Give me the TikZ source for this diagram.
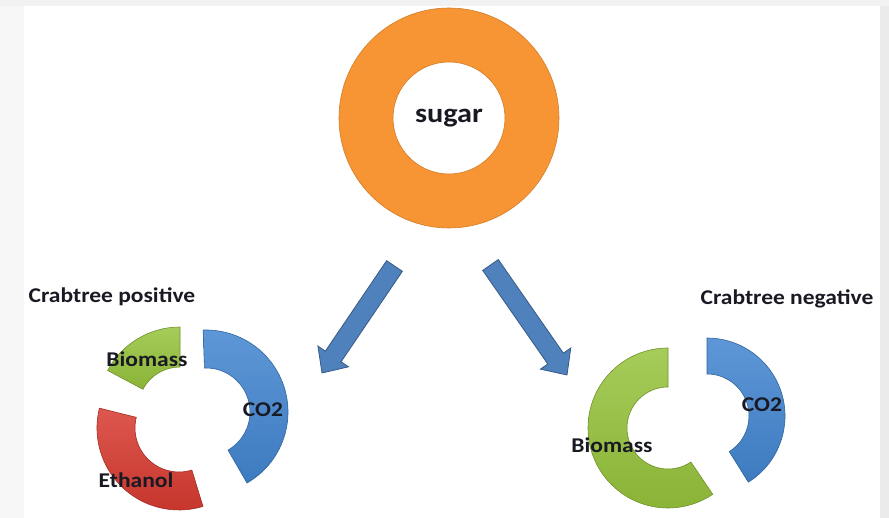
\documentclass[tikz,border=0pt]{standalone}
\usepackage{fontspec}
\setmainfont{Carlito}[FakeStretch=1.12]
\usetikzlibrary{calc,positioning}
\definecolor{sugarorange}{RGB}{247,148,52}
\definecolor{arrowblue}{RGB}{79,129,189}
\definecolor{chartblue}{RGB}{66,133,208}
\definecolor{chartgreen}{RGB}{150,195,60}
\definecolor{chartred}{RGB}{215,58,48}
\definecolor{labeldark}{RGB}{25,25,35}
\tikzset{
  %style for the chart labels
  lbl/.style={
    text=labeldark,
    font=\fontsize{21}{25}\selectfont\bfseries,
    inner sep=0pt},
  %style for the ring pieces
  ringedge/.style={
    line width=0.6pt},
  %style for the fat arrows
  blockarrow/.style={
    fill=arrowblue,
    draw=arrowblue!70!black,
    line width=0.8pt,
    line join=miter}
}
% ring piece: centre, from, to, outer radius, inner radius, colour
\newcommand{\ringpart}[6]{%
  \draw[ringedge, top color=#6!85!white, bottom color=#6!92!black, draw=#6!75!black]
    ($(#1)+(#2:#4)$) arc[start angle=#2, end angle=#3, radius=#4]
    -- ($(#1)+(#3:#5)$) arc[start angle=#3, end angle=#2, radius=#5] -- cycle;}
% fat arrow: tail, tip
\newcommand{\fatarrow}[2]{%
  \coordinate (#2-base) at ($(#2)!20pt!(#1)$);
  \draw[blockarrow] ($(#1)!9.5pt!90:(#2)$) -- ($(#2-base)!9.5pt!90:(#2)$)
    -- ($(#2-base)!18.5pt!90:(#2)$) -- (#2) -- ($(#2-base)!18.5pt!-90:(#2)$)
    -- ($(#2-base)!9.5pt!-90:(#2)$) -- ($(#1)!9.5pt!-90:(#2)$) -- cycle;}

\begin{document}
\begin{tikzpicture}[x=1pt, y=1pt]
\useasboundingbox (0,0) rectangle (889,518);
%frame strips
\fill[black!3] (0,0) rectangle (24,512);
\fill[black!5] (0,512) rectangle (889,518);
\fill[black!8] (880,0) rectangle (889,512);

%sugar ring
\coordinate (sc) at (449,400);
\draw[fill=sugarorange, draw=sugarorange!85!black, line width=0.6pt, even odd rule]
  (sc) circle[radius=110] (sc) circle[radius=56];
\node[lbl, font=\fontsize{27}{31}\selectfont\bfseries] (sugar) at (sc) {sugar};

%arrows
\coordinate (ltail) at (394.5,252);
\coordinate (ltip) at (322,145);
\coordinate (rtail) at (490.5,253);
\coordinate (rtip) at (567,143);
\fatarrow{ltail}{ltip}
\fatarrow{rtail}{rtip}

%crabtree positive
\coordinate (pblue) at (206,106);
\coordinate (pgreen) at (180,109);
\coordinate (pred) at (179,90);
\ringpart{pblue}{-60}{92}{82}{44}{chartblue}
\ringpart{pgreen}{90}{152}{82}{42}{chartgreen}
\ringpart{pred}{166}{287}{82}{44}{chartred}
\node[lbl] (pos) at (112,221) {Crabtree positive};
\node[lbl] (posbio) at (147,159) {Biomass};
\node[lbl] (posco) at (263,108) {CO2};
\node[lbl] (poseth) at (136,38) {Ethanol};

%crabtree negative
\coordinate (nblue) at (707,102);
\coordinate (ngreen) at (668,90);
\ringpart{nblue}{-58}{90}{78}{42}{chartblue}
\ringpart{ngreen}{90}{304}{80}{41}{chartgreen}
\node[lbl] (neg) at (787,219) {Crabtree negative};
\node[lbl] (negbio) at (612,73) {Biomass};
\node[lbl] (negco) at (762,113) {CO2};

\end{tikzpicture}
\end{document}
